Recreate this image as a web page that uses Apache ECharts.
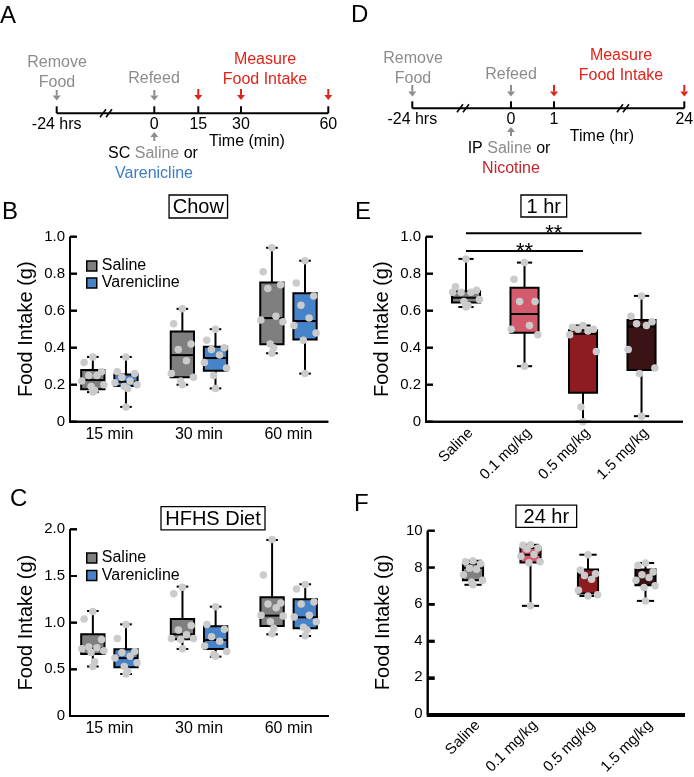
<!DOCTYPE html>
<html><head><meta charset="utf-8">
<script src="https://cdn.jsdelivr.net/npm/echarts@6/dist/echarts.min.js"></script>
<style>html,body{margin:0;padding:0;background:#fff}#c{width:694px;height:777px}</style>
</head><body><div id="c"></div>
<script>
// ---------------- DATA ----------------
const chowCats = ['15 min', '30 min', '60 min'];
// box stats: [min, Q1, median, Q3, max]
const chowSalineBox = [[0.16, 0.175, 0.225, 0.28, 0.35], [0.20, 0.24, 0.36, 0.487, 0.61], [0.37, 0.418, 0.56, 0.752, 0.94]];
const chowVarenBox  = [[0.08, 0.193, 0.216, 0.255, 0.35], [0.18, 0.276, 0.344, 0.405, 0.50], [0.26, 0.445, 0.544, 0.694, 0.87]];
const chowSalinePts = [[0.35, 0.32, 0.27, 0.25, 0.25, 0.22, 0.20, 0.19, 0.17, 0.16], [0.61, 0.53, 0.42, 0.39, 0.33, 0.26, 0.24, 0.22, 0.20], [0.94, 0.81, 0.74, 0.72, 0.57, 0.55, 0.54, 0.42, 0.40, 0.37]];
const chowVarenPts  = [[0.35, 0.27, 0.26, 0.24, 0.22, 0.21, 0.20, 0.19, 0.18, 0.08], [0.50, 0.44, 0.40, 0.39, 0.36, 0.32, 0.29, 0.25, 0.18], [0.87, 0.75, 0.68, 0.63, 0.56, 0.52, 0.48, 0.44, 0.26]];
const chowTicks = [0, 0.2, 0.4, 0.6, 0.8, 1.0];

const hfhsCats = ['15 min', '30 min', '60 min'];
const hfhsSalineBox = [[0.53, 0.664, 0.725, 0.875, 1.125], [0.718, 0.821, 0.875, 1.039, 1.386], [0.875, 0.964, 1.075, 1.271, 1.886]];
const hfhsVarenBox  = [[0.45, 0.521, 0.62, 0.714, 0.982], [0.636, 0.718, 0.814, 0.961, 1.171], [0.857, 0.939, 1.057, 1.25, 1.411]];
const hfhsSalinePts = [[1.12, 1.04, 0.82, 0.74, 0.73, 0.72, 0.70, 0.68, 0.58, 0.53], [1.38, 1.31, 0.97, 0.92, 0.87, 0.83, 0.83, 0.82, 0.72], [1.89, 1.51, 1.21, 1.20, 1.16, 1.08, 1.07, 1.01, 0.94, 0.88]];
const hfhsVarenPts  = [[0.98, 0.83, 0.69, 0.68, 0.64, 0.62, 0.57, 0.53, 0.48, 0.45], [1.17, 0.98, 0.93, 0.85, 0.80, 0.75, 0.69, 0.66, 0.64], [1.41, 1.36, 1.22, 1.20, 1.08, 1.06, 1.01, 0.95, 0.92, 0.86]];
const hfhsTicks = [0, 0.5, 1.0, 1.5, 2.0];

const nicCats = ['Saline', '0.1 mg/kg', '0.5 mg/kg', '1.5 mg/kg'];
const hr1Box = [[0.62, 0.645, 0.67, 0.705, 0.88], [0.30, 0.481, 0.582, 0.724, 0.86], [0.0, 0.157, 0.475, 0.495, 0.52], [0.03, 0.279, 0.514, 0.55, 0.68]];
const hr1Pts = [[0.88, 0.73, 0.71, 0.70, 0.70, 0.70, 0.66, 0.65, 0.63, 0.62], [0.86, 0.77, 0.65, 0.65, 0.52, 0.50, 0.47, 0.30], [0.52, 0.51, 0.50, 0.50, 0.49, 0.47, 0.38, 0.08, 0.0], [0.68, 0.57, 0.54, 0.53, 0.52, 0.39, 0.29, 0.26, 0.03]];
const hr1Sig = [[0, 3, 1.018, '**'], [0, 2, 0.923, '**']]; // [from, to, height, label]
const hr1Ticks = [0, 0.2, 0.4, 0.6, 0.8, 1.0];
const hr24Box = [[7.05, 7.3, 7.97, 8.2, 8.36], [5.9, 8.27, 8.69, 9.05, 9.23], [6.44, 6.58, 7.55, 7.88, 8.69], [6.17, 7.03, 7.52, 7.88, 8.24]];
const hr24Pts = [[8.36, 8.3, 8.2, 7.95, 7.9, 7.6, 7.3, 7.2, 7.05], [9.23, 9.2, 9.05, 9.0, 8.7, 8.6, 8.3, 8.25, 5.9], [8.69, 7.85, 7.65, 7.55, 7.35, 6.75, 6.5, 6.44], [8.24, 8.1, 7.75, 7.6, 7.45, 7.3, 7.0, 6.9, 6.17]];
const hr24Ticks = [0, 2, 4, 6, 8, 10];

const timelineA = ['-24 hrs', '0', '15', '30', '60'];
const timelineD = ['-24 hrs', '0', '1', '24'];

// ---------------- STYLE / LAYOUT ----------------
const FONT = '"Liberation Sans", Arial, sans-serif';
const C_SAL = '#7f7f7f', C_VAR = '#4683c9';
const NIC_COLORS = ['#808080', '#d35b6d', '#8e1b20', '#3a1315'];
const DOT = '#cbcbcb';
const GRAY_T = '#8c8c8c', RED_T = '#e2231a', BLUE_T = '#3c7cc7', NIC_T = '#c1262c';
const JIT = [0, -0.75, 0.75, -0.35, 0.35, -0.95, 0.95, -0.15, 0.15, 0.55, -0.55];

const GRIDS = [
  { left: 70, top: 236.7, width: 258.3, height: 185 },
  { left: 70, top: 529.3, width: 259, height: 186.7 },
  { left: 426, top: 236.7, width: 257, height: 185 },
  { left: 427.7, top: 530.7, width: 257.3, height: 185.3 }
];
// x layout per panel: first category position (axis starts at 0), axis extent, label shift
const LAY = [
  { start: 0.44, max: 2.885, lab: 0 },
  { start: 0.44, max: 2.89, lab: 0 },
  { start: 0.684, max: 4.393, lab: 0.08 },
  { start: 0.788, max: 4.475, lab: 0.08 }
];

function boxSeries(name, gi, stats, offset, colorFn, boxW, capW) {
  const st = LAY[gi].start;
  return {
    type: 'custom', name, xAxisIndex: gi, yAxisIndex: gi, z: 2, clip: false,
    itemStyle: { color: colorFn(0) },
    data: stats.map((s, i) => [st + i + offset, ...s]),
    encode: { x: 0, y: [1, 2, 3, 4, 5] },
    renderItem(params, api) {
      const x = api.value(0);
      const p = v => api.coord([x, v]);
      const half = api.size([boxW, 0])[0] / 2;
      const ch = api.size([capW, 0])[0] / 2;
      const pMin = p(api.value(1)), pQ1 = p(api.value(2)), pMed = p(api.value(3)), pQ3 = p(api.value(4)), pMax = p(api.value(5));
      const cx = pMin[0];
      const ls = { stroke: '#000', lineWidth: 2 };
      return { type: 'group', children: [
        { type: 'line', shape: { x1: cx, y1: pMax[1], x2: cx, y2: pQ3[1] }, style: ls },
        { type: 'line', shape: { x1: cx, y1: pQ1[1], x2: cx, y2: pMin[1] }, style: ls },
        { type: 'line', shape: { x1: cx - ch, y1: pMax[1], x2: cx + ch, y2: pMax[1] }, style: ls },
        { type: 'line', shape: { x1: cx - ch, y1: pMin[1], x2: cx + ch, y2: pMin[1] }, style: ls },
        { type: 'rect', shape: { x: cx - half, y: pQ3[1], width: half * 2, height: pQ1[1] - pQ3[1] }, style: { fill: colorFn(params.dataIndex), stroke: '#000', lineWidth: 2 } },
        { type: 'line', shape: { x1: cx - half, y1: pMed[1], x2: cx + half, y2: pMed[1] }, style: ls }
      ] };
    }
  };
}
function dotSeries(name, gi, pts, offset, boxW) {
  const st = LAY[gi].start;
  const data = [];
  pts.forEach((arr, i) => arr.forEach((v, k) => {
    const j = (k === 0 || k === arr.length - 1) ? 0 : JIT[k % JIT.length];
    data.push([st + i + offset + j * boxW / 2, v]);
  }));
  return { type: 'scatter', name, xAxisIndex: gi, yAxisIndex: gi, z: 5, clip: false, symbolSize: 7.5, itemStyle: { color: DOT, opacity: 1 }, data, silent: true };
}
// axis frame (left + bottom lines, inner ticks) drawn through the grid's scales, on its own layer
function axesSeries(gi, yTicks) {
  return {
    type: 'custom', xAxisIndex: gi, yAxisIndex: gi, zlevel: 1, z: 100, clip: false, silent: true,
    data: [[0, 0]],
    renderItem(params, api) {
      const ymax = yTicks[yTicks.length - 1];
      const o = api.coord([0, 0]), t = api.coord([0, ymax]), r = api.coord([LAY[gi].max, 0]);
      const ch = [{ type: 'polyline', shape: { points: [t, o, r] }, style: { stroke: '#000', fill: null, lineWidth: 2 } }];
      yTicks.forEach(v => {
        const p = api.coord([0, v]);
        ch.push({ type: 'line', shape: { x1: p[0], y1: p[1], x2: p[0] + 7, y2: p[1] }, style: { stroke: '#000', lineWidth: 2 } });
      });
      return { type: 'group', children: ch };
    }
  };
}

function xAxisDef(gi, cats, rotate) {
  const st = LAY[gi].start + LAY[gi].lab;
  return {
    type: 'value', gridIndex: gi, min: 0, max: LAY[gi].max, splitLine: { show: false },
    axisLine: { show: false }, axisTick: { show: false },
    axisLabel: { customValues: cats.map((c, i) => st + i), formatter: v => cats[Math.round(v - st)], color: '#000',
      fontSize: rotate ? 15 : 16, fontFamily: FONT, rotate: rotate || 0, margin: rotate ? 9 : 5 }
  };
}
function yAxisDef(gi, ticks, fmt) {
  return {
    type: 'value', gridIndex: gi, min: 0, max: ticks[ticks.length - 1], interval: ticks[1] - ticks[0], splitLine: { show: false },
    name: 'Food Intake (g)', nameLocation: 'middle', nameGap: 34,
    nameTextStyle: { fontSize: 20, fontFamily: FONT, color: '#000' },
    axisLine: { show: false }, axisTick: { show: false },
    axisLabel: { formatter: fmt, color: '#000', fontSize: 15, fontFamily: FONT, margin: 5 }
  };
}
const f1 = v => v === 0 ? '0' : v.toFixed(1);
const f0 = v => String(v);

// ---------------- GRAPHIC HELPERS ----------------
function T(x, y, text, fill, size, align, extra) {
  return { type: 'text', x, y, silent: true, style: Object.assign({ text, fill, font: size + 'px ' + FONT, align: align || 'center', verticalAlign: 'middle' }, extra || {}) };
}
function L(x1, y1, x2, y2, stroke, w) { return { type: 'line', silent: true, shape: { x1, y1, x2, y2 }, style: { stroke, lineWidth: w || 2 } }; }
function arrow(x, y1, y2, color) {
  const d = y2 > y1 ? 1 : -1, hd = 5;
  return [L(x, y1, x, y2 - d * hd, color, 2),
    { type: 'polygon', silent: true, shape: { points: [[x - 4, y2 - d * hd], [x + 4, y2 - d * hd], [x, y2]] }, style: { fill: color } }];
}
function brk(x, y) { return [L(x - 6, y + 4, x, y - 4, '#000', 1.5), L(x, y + 4, x + 6, y - 4, '#000', 1.5)]; }
function boxTitle(cx, cy, w, h, text) {
  return [{ type: 'rect', silent: true, shape: { x: cx - w / 2, y: cy - h / 2, width: w, height: h }, style: { fill: '#fff', stroke: '#000', lineWidth: 1.3 } },
    T(cx, cy + 1, text, '#000', 20)];
}
// frame of a grid rectangle (left/bottom axis lines + inner ticks at the y tick fractions)
function gridFrame(g, yTicks) {
  const x0 = g.left, yb = g.top + g.height, yt = g.top, xr = g.left + g.width, ymax = yTicks[yTicks.length - 1];
  const out = [{ type: 'polyline', z: 100, silent: true, shape: { points: [[x0, yt], [x0, yb], [xr, yb]] }, style: { stroke: '#000', fill: null, lineWidth: 2 } }];
  yTicks.forEach(v => { const y = yb - g.height * v / ymax; out.push(Object.assign(L(x0, y, x0 + 7, y, '#000', 2), { z: 100 })); });
  return out;
}

const G = [];
// panel letters
G.push(T(0, 16, 'A', '#000', 24, 'left'), T(351, 15, 'D', '#000', 24, 'left'),
  T(2, 212, 'B', '#000', 24, 'left'), T(355, 212, 'E', '#000', 24, 'left'),
  T(10, 499, 'C', '#000', 24, 'left'), T(354, 504, 'F', '#000', 24, 'left'));

// timeline A
const ax = [56.7, 154.3, 198.3, 241, 328.3], ay = 113.3;
G.push(L(ax[0], ay, ax[4], ay, '#000', 2));
ax.forEach((x, i) => { G.push(L(x, ay - 7, x, ay, '#000', 2)); G.push(T(x, 125, timelineA[i], '#000', 16)); });
G.push(...brk(106, ay));
G.push(...arrow(ax[0], 90, 100.5, GRAY_T), ...arrow(ax[1], 90, 100.5, GRAY_T));
G.push(...arrow(ax[2], 89, 100, RED_T), ...arrow(ax[3], 89, 100, RED_T), ...arrow(ax[4], 89, 100, RED_T));
G.push(...arrow(ax[1], 141, 132, GRAY_T));
G.push(T(57, 63, 'Remove', GRAY_T, 16), T(57, 83, 'Food', GRAY_T, 16), T(154, 79, 'Refeed', GRAY_T, 16),
  T(265, 60, 'Measure', RED_T, 16), T(265, 80, 'Food Intake', RED_T, 16),
  T(247, 142, 'Time (min)', '#000', 16),
  T(153, 154, '{k|SC }{g|Saline}{k| or}', '#000', 16, 'center', { rich: { k: { fill: '#000', font: '16px ' + FONT }, g: { fill: GRAY_T, font: '16px ' + FONT } } }),
  T(154, 174, 'Varenicline', BLUE_T, 16));

// timeline D
const dx = [412.3, 511, 554, 684.3], dy = 108.3;
G.push(L(dx[0], dy, dx[3], dy, '#000', 2));
dx.forEach((x, i) => { G.push(L(x, dy - 7, x, dy, '#000', 2)); G.push(T(x, 120, timelineD[i], '#000', 16)); });
G.push(...brk(463, dy), ...brk(623, dy));
G.push(...arrow(dx[0], 85, 96.5, GRAY_T), ...arrow(dx[1], 85, 96.5, GRAY_T));
G.push(...arrow(dx[2], 85, 96.5, RED_T), ...arrow(dx[3], 85, 96.5, RED_T));
G.push(...arrow(dx[1], 136, 127, GRAY_T));
G.push(T(413, 59, 'Remove', GRAY_T, 16), T(413, 79, 'Food', GRAY_T, 16), T(511, 75, 'Refeed', GRAY_T, 16),
  T(621, 56, 'Measure', RED_T, 16), T(621, 76, 'Food Intake', RED_T, 16),
  T(602, 137, 'Time (hr)', '#000', 16),
  T(509, 149, '{k|IP }{g|Saline}{k| or}', '#000', 16, 'center', { rich: { k: { fill: '#000', font: '16px ' + FONT }, g: { fill: GRAY_T, font: '16px ' + FONT } } }),
  T(511, 169, 'Nicotine', NIC_T, 16));

// title boxes
G.push(...boxTitle(198.3, 206.5, 58.5, 23, 'Chow'), ...boxTitle(543.8, 206, 45.7, 22, '1 hr'),
  ...boxTitle(213, 518.3, 104, 23.3, 'HFHS Diet'), ...boxTitle(546.3, 516.2, 60.7, 22.3, '24 hr'));

// axis frames
G.push(...gridFrame(GRIDS[0], chowTicks), ...gridFrame(GRIDS[1], hfhsTicks), ...gridFrame(GRIDS[2], hr1Ticks), ...gridFrame(GRIDS[3], hr24Ticks));

// ---------------- OPTION ----------------
const BW2 = 0.26, OFF = 0.185;
const legendItem = (name, color) => ({ name, icon: 'rect', itemStyle: { color, borderColor: '#000', borderWidth: 1.5 } });
const option = {
  animation: false,
  backgroundColor: '#fff',
  textStyle: { fontFamily: FONT },
  graphic: { elements: G },
  grid: GRIDS,
  xAxis: [
    xAxisDef(0, chowCats),
    xAxisDef(1, hfhsCats),
    xAxisDef(2, nicCats, 45),
    xAxisDef(3, nicCats, 45)
  ],
  yAxis: [
    yAxisDef(0, chowTicks, f1),
    yAxisDef(1, hfhsTicks, f1),
    yAxisDef(2, hr1Ticks, f1),
    yAxisDef(3, hr24Ticks, f0)
  ],
  legend: [
    { left: 86, top: 258, orient: 'vertical', padding: 0, itemWidth: 10, itemHeight: 10, itemGap: 1, selectedMode: false,
      textStyle: { fontSize: 16, fontFamily: FONT, color: '#000' },
      data: [legendItem('Saline', C_SAL), legendItem('Varenicline', C_VAR)] },
    { left: 86, top: 550, orient: 'vertical', padding: 0, itemWidth: 10, itemHeight: 10, itemGap: 1.5, selectedMode: false,
      textStyle: { fontSize: 16, fontFamily: FONT, color: '#000' },
      data: [legendItem('Saline', C_SAL), legendItem('Varenicline', C_VAR)] }
  ],
  series: [
    boxSeries('Saline', 0, chowSalineBox, -OFF, () => C_SAL, BW2, 0.13),
    boxSeries('Varenicline', 0, chowVarenBox, OFF, () => C_VAR, BW2, 0.13),
    dotSeries('chow saline pts', 0, chowSalinePts, -OFF, BW2),
    dotSeries('chow varen pts', 0, chowVarenPts, OFF, BW2),
    boxSeries('Saline', 1, hfhsSalineBox, -OFF, () => C_SAL, BW2, 0.13),
    boxSeries('Varenicline', 1, hfhsVarenBox, OFF, () => C_VAR, BW2, 0.13),
    dotSeries('hfhs saline pts', 1, hfhsSalinePts, -OFF, BW2),
    dotSeries('hfhs varen pts', 1, hfhsVarenPts, OFF, BW2),
    boxSeries('Nicotine 1 hr', 2, hr1Box, 0, i => NIC_COLORS[i], 0.48, 0.26),
    dotSeries('hr1 pts', 2, hr1Pts, 0, 0.48),
    boxSeries('Nicotine 24 hr', 3, hr24Box, 0, i => NIC_COLORS[i], 0.35, 0.3),
    dotSeries('hr24 pts', 3, hr24Pts, 0, 0.35),
    {
      type: 'custom', name: 'sig', xAxisIndex: 2, yAxisIndex: 2, z: 6, clip: false, silent: true,
      data: hr1Sig.map(s => [LAY[2].start + s[0], LAY[2].start + s[1], s[2]]),
      encode: { x: [0, 1], y: 2 },
      renderItem(params, api) {
        const a = api.coord([api.value(0), api.value(2)]);
        const b = api.coord([api.value(1), api.value(2)]);
        const lab = hr1Sig[params.dataIndex][3];
        return { type: 'group', children: [
          { type: 'line', shape: { x1: a[0], y1: a[1], x2: b[0], y2: b[1] }, style: { stroke: '#000', lineWidth: 2 } },
          { type: 'text', x: (a[0] + b[0]) / 2, y: a[1] + 1, style: { text: lab, fill: '#000', font: '22px ' + FONT, align: 'center', verticalAlign: 'middle' } }
        ] };
      }
    },
    axesSeries(0, chowTicks), axesSeries(1, hfhsTicks), axesSeries(2, hr1Ticks), axesSeries(3, hr24Ticks)
  ]
};
const chart = echarts.init(document.getElementById('c'));
chart.setOption(option);
</script>
</body></html>
